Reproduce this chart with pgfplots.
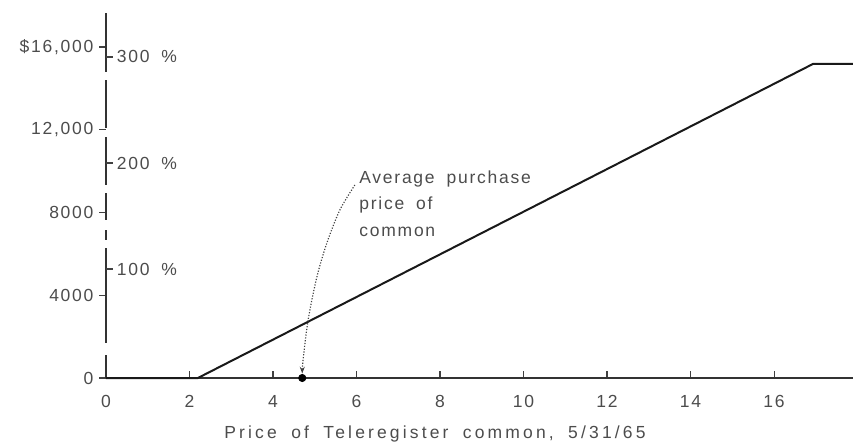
\documentclass[border=0pt]{standalone}
\usepackage{fontspec}
\setmainfont[LetterSpace=10,WordSpace=1.8]{Liberation Sans}
\usepackage{pgfplots}
\pgfplotsset{compat=1.18}
\usetikzlibrary{arrows.meta}
\begin{document}
\begin{tikzpicture}[x=0.6pt,y=0.6pt]
\useasboundingbox (0,0) rectangle (853,444);
\pgfplotsset{
  common/.style={
    at={(63.6pt,39.6pt)}, anchor=south west,
    scale only axis, width=448.2pt, height=219pt,
    xmin=0, xmax=17.89, ymin=0, ymax=17644,
    clip=false, scaled x ticks=false, scaled y ticks=false,
    tick label style={font=\fontsize{10.5}{12}\selectfont, text=black!70},
    label style={font=\fontsize{10.5}{12}\selectfont, text=black!70},
    tick style={black!75, line width=0.7pt},
    major tick length=4pt,
  }
}
\begin{axis}[common,
  axis x line=bottom, axis y line=left,
  x axis line style={-, black!80, line width=0.8pt},
  y axis line style={draw=none},
  tick align=outside,
  xtick={0,2,4,6,8,10,12,14,16},
  xticklabels={0,2,4,6,8,10,12,14,16},
  xtick style={yshift=4pt},
  xticklabel style={yshift=-3pt},
  ytick={0,4000,8000,12000,16000},
  yticklabels={0,4000,8000,{12,000},{\$16,000}},
  xlabel={\addfontfeature{LetterSpace=18}Price of Teleregister common, 5/31/65},
  xlabel style={at={(axis description cs:0.4404,0)}, anchor=center, yshift=-33.6pt},
]
% broken y-axis line
\draw[black!80, line width=0.8pt] (axis cs:0,17644) -- (axis cs:0,14792);
\draw[black!80, line width=0.8pt] (axis cs:0,14405) -- (axis cs:0,12085);
\draw[black!80, line width=0.8pt] (axis cs:0,11650) -- (axis cs:0,9329);
\draw[black!80, line width=0.8pt] (axis cs:0,8943) -- (axis cs:0,7637);
\draw[black!80, line width=0.8pt] (axis cs:0,7154) -- (axis cs:0,6671);
\draw[black!80, line width=0.8pt] (axis cs:0,6284) -- (axis cs:0,1692);
\draw[black!80, line width=0.8pt] (axis cs:0,1112) -- (axis cs:0,0);
% value line
\addplot[black!90, line width=1.2pt] coordinates {(0,0) (2.2,0) (16.93,15180) (17.89,15180)};
% average purchase price
\addplot[only marks, mark=*, mark size=2.2pt, black] coordinates {(4.7,0)};
\draw[densely dotted, black!75, line width=0.7pt, -{Stealth[length=4pt,width=3pt]}]
  plot[smooth] coordinates {(axis cs:5.96,9330) (axis cs:5.6,8120) (axis cs:5.29,6530) (axis cs:5.05,4880) (axis cs:4.84,2800) (axis cs:4.72,870) (axis cs:4.70,220)};
\node[anchor=north west, align=left, inner sep=0pt, text=black!70,
  font=\fontsize{10.5}{16}\selectfont] at (axis cs:6.06,10054)
  {Average purchase\\price of\\common};
\end{axis}
\begin{axis}[common,
  axis x line=none, axis y line=left,
  y axis line style={draw=none},
  tick align=inside,
  xtick=\empty,
  ytick={5270,10390,15520},
  yticklabels={100 \%,200 \%,300 \%},
  yticklabel style={anchor=west, xshift=3pt},
]
\end{axis}
\end{tikzpicture}
\end{document}
